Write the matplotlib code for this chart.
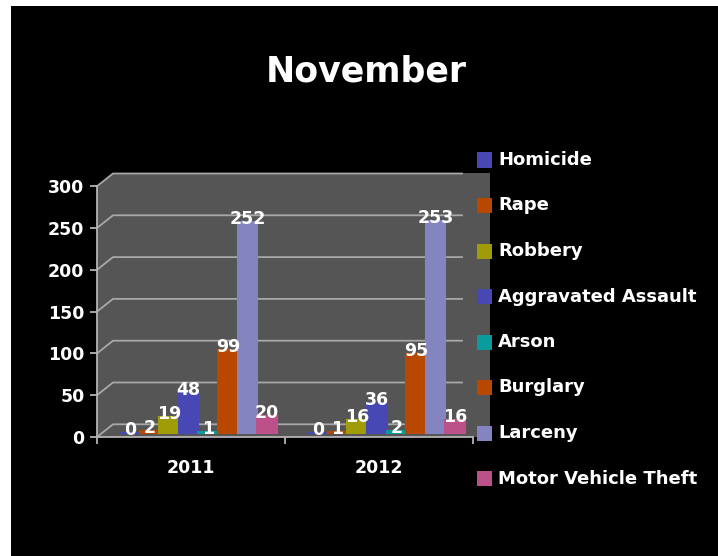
import matplotlib
matplotlib.use("Agg")
import matplotlib.pyplot as plt
from matplotlib.patches import Polygon, Rectangle

# ---- data ----
years = ["2011", "2012"]
crimes = ["Homicide", "Rape", "Robbery", "Aggravated Assault", "Arson",
          "Burglary", "Larceny", "Motor Vehicle Theft"]
counts_2011 = [0, 2, 19, 48, 1, 99, 252, 20]
counts_2012 = [0, 1, 16, 36, 2, 95, 253, 16]
y_ticks = [0, 50, 100, 150, 200, 250, 300]
colors = ["#4848b4", "#b84800", "#a09c08", "#4848b4", "#0a9c9c",
          "#b84800", "#8484c0", "#bc5088"]

W, H = 718, 556
fig = plt.figure(figsize=(W / 100, H / 100), dpi=100, facecolor="white")


def fx(px):
    return px / W


def fy(py):
    return 1 - py / H


# black slide background
fig.patches.append(Rectangle((fx(11), 0), 1 - fx(11), fy(6), transform=fig.transFigure,
                             facecolor="black", edgecolor="none", zorder=-5))

# plot area in pixel terms
left_px, right_px, top_px, bot_px = 97, 490, 173, 437
px_per_cat = 188.0
px_per_val = 0.836
ax = fig.add_axes([fx(left_px), fy(bot_px), (right_px - left_px) / W, (bot_px - top_px) / H])
ax.set_zorder(1)
ax.set_xlim(-0.5, -0.5 + (right_px - left_px) / px_per_cat)
ax.set_ylim(0, (bot_px - top_px) / px_per_val)
ax.patch.set_visible(False)

# depth offsets of the back wall and of the bar plane (data units)
dxb, dyb = 16 / px_per_cat, 12.7 / px_per_val
bar_dx, bar_base = 7.5 / px_per_cat, 4 / px_per_val

# gray plot wall with bevelled corner
ax.add_patch(Polygon([(0, 0), (0, (bot_px - 187) / (bot_px - top_px)),
                      (16 / (right_px - left_px), 1), (1, 1), (1, 0)],
                     closed=True, transform=ax.transAxes, facecolor="#555555",
                     edgecolor="none", zorder=0))

# gridlines on the back wall with perspective connectors
x_back_right = (462 - left_px) / px_per_cat - 0.5
for g in y_ticks:
    ax.plot([-0.5, -0.5 + dxb, x_back_right], [g, g + dyb, g + dyb],
            color="#a8a8a8", lw=1.3, zorder=1, clip_on=False)

# bars
n = len(crimes)
bw = 19.6 / px_per_cat
for yi, vals in enumerate([counts_2011, counts_2012]):
    for ci, v in enumerate(vals):
        xc = yi + bar_dx + (ci - (n - 1) / 2) * bw
        ax.bar(xc, v, width=bw, bottom=bar_base, color=colors[ci],
               edgecolor=colors[ci], linewidth=1.5, zorder=2)
        ax.text(xc, bar_base + v + 3 / px_per_val, str(v), ha="center", va="center",
                color="white", fontsize=12.5, fontweight="bold", zorder=4)

# axes
for s in ["top", "right"]:
    ax.spines[s].set_visible(False)
for s in ["left", "bottom"]:
    ax.spines[s].set_color("#b4b4b4")
    ax.spines[s].set_linewidth(1.3)
ax.spines["left"].set_bounds(0, 300)
ax.spines["bottom"].set_bounds(-0.5, 1.5)
ax.set_yticks(y_ticks)
ax.set_yticklabels([str(t) for t in y_ticks])
ax.tick_params(axis="y", direction="out", length=5, width=1.3, color="#b4b4b4",
               labelcolor="white", labelsize=12.5, pad=4)
ax.set_xticks([-0.5, 0.5, 1.5])
ax.set_xticklabels([])
ax.tick_params(axis="x", which="major", direction="out", length=5, width=1.3, color="#b4b4b4")
ax.set_xticks([0, 1], minor=True)
ax.set_xticklabels(years, minor=True)
ax.tick_params(axis="x", which="minor", length=0, labelcolor="white", labelsize=12.5, pad=16)
for lab in ax.get_yticklabels() + ax.get_xticklabels(minor=True):
    lab.set_fontweight("bold")

# legend
for i, (name, c) in enumerate(zip(crimes, colors)):
    yc = 160 + i * 45.5
    fig.patches.append(Rectangle((fx(477), fy(yc + 7.5)), 15 / W, 15 / H,
                                 transform=fig.transFigure, facecolor=c,
                                 edgecolor="none", zorder=3))
    fig.text(fx(498), fy(yc), name, ha="left", va="center", color="white",
             fontsize=13, fontweight="bold")

# title
fig.text(fx(366), fy(72), "November", ha="center", va="center", color="white",
         fontsize=25, fontweight="bold")

fig.savefig("out.png", dpi=100, facecolor=fig.get_facecolor())
